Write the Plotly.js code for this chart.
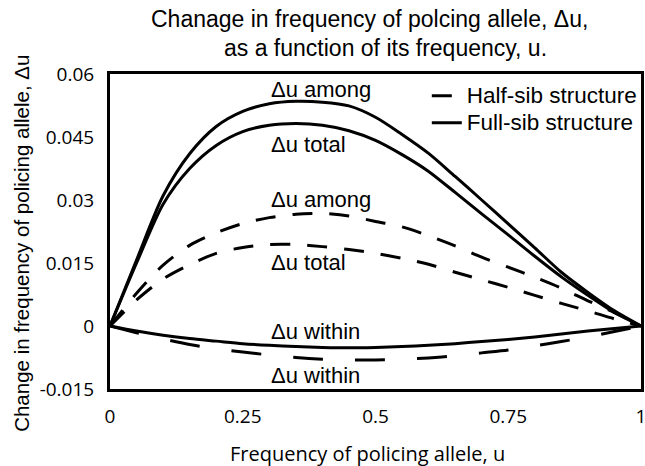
<!DOCTYPE html>
<html>
<head>
<meta charset="utf-8">
<script src="https://cdn.plot.ly/plotly-3.0.1.min.js"></script>
<style>html,body{margin:0;padding:0;background:#fff;}#chart{width:645px;height:466px;}</style>
</head>
<body>
<div id="chart"></div>
<script>
// Frequency of policing allele, u
const u = [0,0.05,0.1,0.15,0.2,0.25,0.3,0.35,0.4,0.45,0.5,0.55,0.6,0.65,0.7,0.75,0.8,0.85,0.9,0.95,1];

// Full-sib structure
const fullAmong  = [0,0.0157,0.031,0.041,0.0475,0.0511,0.0529,0.0535,0.0533,0.0524,0.0497,0.0456,0.0411,0.0356,0.0300,0.0243,0.0186,0.0128,0.0080,0.0036,0];
const fullTotal  = [0,0.0150,0.029,0.0375,0.0430,0.0463,0.0478,0.0482,0.0478,0.0465,0.0442,0.0408,0.0368,0.0318,0.0267,0.0217,0.0166,0.0117,0.0073,0.0032,0];
const fullWithin = [0,-0.0012,-0.0022,-0.0030,-0.0036,-0.0042,-0.0046,-0.0049,-0.0051,-0.0052,-0.0051,-0.0049,-0.0046,-0.0042,-0.0037,-0.0032,-0.0026,-0.0019,-0.0012,-0.0006,0];

// Half-sib structure
const halfAmong  = [0,0.0078,0.0145,0.0192,0.0222,0.0244,0.0258,0.0266,0.0268,0.0262,0.0249,0.0236,0.0215,0.0191,0.0164,0.0140,0.0116,0.0090,0.0060,0.0032,0];
const halfTotal  = [0,0.0062,0.0112,0.0146,0.0173,0.0187,0.0194,0.0194,0.0189,0.0182,0.0173,0.0161,0.0147,0.0128,0.0110,0.0092,0.0073,0.0054,0.0036,0.0017,0];
const halfWithin = [0,-0.0016,-0.0031,-0.0044,-0.0054,-0.0062,-0.0069,-0.0075,-0.0079,-0.0081,-0.0081,-0.0079,-0.0076,-0.0071,-0.0064,-0.0057,-0.0047,-0.0037,-0.0026,-0.0013,0];

const xTickVals = [0,0.25,0.5,0.75,1];
const xTickText = ['0','0.25','0.5','0.75','1'];
const yTickVals = [-0.015,0,0.015,0.03,0.045,0.06];
const yTickText = ['-0.015','0','0.015','0.03','0.045','0.06'];

const seriesNames = ['Half-sib structure','Full-sib structure'];
const curveLabels = ['\u0394u among','\u0394u total','\u0394u among','\u0394u total','\u0394u within','\u0394u within'];
const curveLabelY = [0.0563,0.0433,0.0302,0.0152,-0.0012,-0.0117];

const DASH = '20px,17px';
const DASH_W = '30px,32px';
const legendName = s => '<span style="font-size:22.5px">' + s + '</span>';
function tr(y, name, dash, show) {
  return {x: u, y: y, type: 'scatter', mode: 'lines', name: legendName(name), showlegend: show,
    line: {color: '#000', width: 3, dash: dash, shape: 'spline', smoothing: 0.8}, hoverinfo: 'skip'};
}
const data = [
  tr(halfAmong, seriesNames[0], DASH, true),
  tr(fullAmong, seriesNames[1], 'solid', true),
  tr(halfTotal, seriesNames[0], DASH, false),
  tr(halfWithin, seriesNames[0], DASH_W, false),
  tr(fullTotal, seriesNames[1], 'solid', false),
  tr(fullWithin, seriesNames[1], 'solid', false)
];

const arial = 'Liberation Sans, Arial, sans-serif';
const myriad = 'Open Sans, sans-serif';
const W = 533, H = 315, L = 110, T = 74;
const px2x = p => (p - L) / W;
const py2y = p => (T + H - p) / H;

const annotations = curveLabels.map((t, i) => ({
  x: 0.299, y: curveLabelY[i], xref: 'x', yref: 'y', text: t, showarrow: false,
  xanchor: 'left', yanchor: 'middle', font: {family: arial, size: 22, color: '#000'}
}));
annotations.push({
  x: px2x(222), y: py2y(48), xref: 'paper', yref: 'paper', text: 'as a function of its frequency, u.',
  showarrow: false, xanchor: 'left', yanchor: 'middle', font: {family: arial, size: 23, color: '#000'}
});
annotations.push({
  x: px2x(21), y: py2y(243.5), xref: 'paper', yref: 'paper', text: 'Change in frequency of policing allele, \u0394u',
  showarrow: false, textangle: -90, xanchor: 'center', yanchor: 'middle', font: {family: arial, size: 20.5, color: '#000'}
});
annotations.push({
  x: px2x(368), y: py2y(453), xref: 'paper', yref: 'paper', text: 'Frequency of policing allele, u',
  showarrow: false, xanchor: 'center', yanchor: 'middle', font: {family: myriad, size: 20, color: '#000'}
});

const layout = {
  width: 645, height: 466,
  margin: {l: L, r: 645 - L - W, t: T, b: 466 - T - H},
  paper_bgcolor: '#fff', plot_bgcolor: '#fff',
  showlegend: true,
  title: {text: 'Chanage in frequency of polcing allele, \u0394u,', font: {family: arial, size: 23, color: '#000'},
    x: 151/645, xanchor: 'left', y: 1 - 19/466, yanchor: 'middle', pad: {l: 0, r: 0, t: 0, b: 0}},
  xaxis: {range: [0, 1], tickvals: xTickVals, ticktext: xTickText, showgrid: false, zeroline: false,
    showline: true, mirror: true, linecolor: '#000', linewidth: 3, ticks: '', ticklabeloverflow: 'allow',
    tickfont: {family: myriad, size: 19, color: '#000'}, ticklabelstandoff: 8},
  yaxis: {range: [-0.015, 0.06], tickvals: yTickVals, ticktext: yTickText, showgrid: false, zeroline: false,
    showline: true, mirror: true, linecolor: '#000', linewidth: 3, ticks: '',
    tickfont: {family: myriad, size: 19, color: '#000'}, ticklabelstandoff: 9},
  legend: {x: px2x(428), y: 0.99, xanchor: 'left', yanchor: 'top', bgcolor: 'rgba(0,0,0,0)',
    font: {family: arial, size: 18.5, color: '#000'}, itemwidth: 30, tracegroupgap: 0},
  annotations: annotations
};

Plotly.newPlot('chart', data, layout, {staticPlot: true, displayModeBar: false});
</script>
</body>
</html>
